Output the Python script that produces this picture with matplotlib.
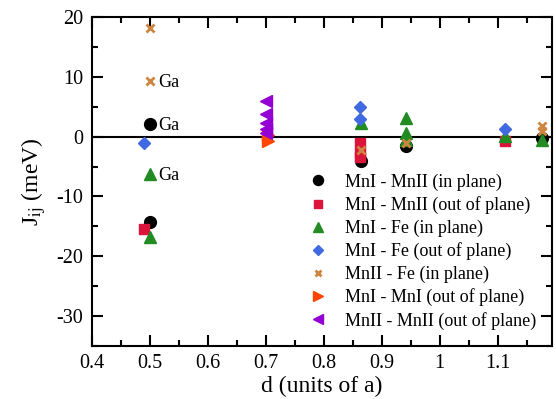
import numpy as np
import matplotlib
matplotlib.use("Agg")
from matplotlib import pyplot as plt
from matplotlib.ticker import MultipleLocator

plt.rcParams['font.family'] = ['Liberation Serif', 'DejaVu Serif']
plt.rcParams['mathtext.fontset'] = 'stix'
plt.rcParams['axes.unicode_minus'] = False

# exchange couplings J_ij (meV) vs distance d (units of a)
mn1_mn2_in_d = [0.50, 0.50, 0.865, 0.942, 1.177]
mn1_mn2_in_j = [2.2, -14.2, -4.0, -1.5, -0.2]

mn1_mn2_out_d = [0.49, 0.862, 0.862, 0.862, 1.113]
mn1_mn2_out_j = [-15.5, -1.0, -2.8, -3.4, -0.7]

mn1_fe_in_d = [0.50, 0.50, 0.865, 0.942, 0.942, 0.942, 1.113, 1.177]
mn1_fe_in_j = [-6.2, -16.8, 2.3, 3.2, 0.7, -0.5, 0.2, -0.6]

mn1_fe_out_d = [0.49, 0.862, 0.862, 1.113]
mn1_fe_out_j = [-1.0, 4.9, 3.0, 1.3]

mn2_fe_in_d = [0.50, 0.50, 0.865, 0.942, 1.177, 1.177]
mn2_fe_in_j = [18.2, 9.3, -2.3, -1.0, 1.8, 1.0]

mn1_mn1_out_d = [0.704, 0.704]
mn1_mn1_out_j = [0.3, -0.7]

mn2_mn2_out_d = [0.70, 0.70, 0.70, 0.70, 0.70]
mn2_mn2_out_j = [6.0, 3.8, 2.3, 1.3, 0.6]

# points that carry a "Ga" tag
ga_d = [0.50, 0.50, 0.50]
ga_j = [9.3, 2.2, -6.2]

fig = plt.figure(figsize=(5.56, 3.99), dpi=100)
ax = fig.add_axes([0.165, 0.133, 0.828, 0.824])

ax.axhline(0, color='black', lw=1.5, zorder=1)

ax.plot(mn1_mn2_in_d, mn1_mn2_in_j, ls='none', marker='o', ms=8.5, color='black', label='MnI - MnII (in plane)')
ax.plot(mn1_mn2_out_d, mn1_mn2_out_j, ls='none', marker='s', ms=7.5, color='#dc143c', label='MnI - MnII (out of plane)')
ax.plot(mn1_fe_in_d, mn1_fe_in_j, ls='none', marker='^', ms=8.5, color='#228b22', label='MnI - Fe (in plane)')
ax.plot(mn1_fe_out_d, mn1_fe_out_j, ls='none', marker='D', ms=6.5, color='#4169e1', label='MnI - Fe (out of plane)')
ax.plot(mn2_fe_in_d, mn2_fe_in_j, ls='none', marker='x', ms=5.5, mew=2, color='#cd853f', label='MnII - Fe (in plane)')
ax.plot(mn1_mn1_out_d, mn1_mn1_out_j, ls='none', marker='>', ms=8.5, color='#ff4500', label='MnI - MnI (out of plane)')
ax.plot(mn2_mn2_out_d, mn2_mn2_out_j, ls='none', marker='<', ms=8.5, color='#9400d3', label='MnII - MnII (out of plane)')

for d, j in zip(ga_d, ga_j):
    ax.text(d + 0.015, j - 0.3, 'Ga', fontsize=13, va='center', ha='left')

ax.set_xlim(0.4, 1.194)
ax.set_ylim(-35, 20)
ax.xaxis.set_minor_locator(MultipleLocator(0.05))
ax.yaxis.set_major_locator(MultipleLocator(10))
ax.yaxis.set_minor_locator(MultipleLocator(5))
ax.set_xticks(np.arange(0.4, 1.15, 0.1))
ax.set_xticklabels(['0.4', '0.5', '0.6', '0.7', '0.8', '0.9', '1', '1.1'])

ax.tick_params(which='both', direction='in', top=True, right=True, labelsize=14.5, width=1.5, pad=6)
ax.tick_params(which='major', length=8)
ax.tick_params(which='minor', length=4)
for s in ax.spines.values():
    s.set_linewidth(1.5)

ax.set_xlabel('d (units of a)', fontsize=17, labelpad=2)
ax.set_ylabel(r'J$_{\rm ij}$ (meV)', fontsize=17, labelpad=6)

ax.legend(loc='lower right', bbox_to_anchor=(1.0, 0.0), frameon=False, fontsize=13,
          handletextpad=0.7, labelspacing=0.3, markerscale=0.85, handlelength=1.5)

fig.savefig('out.png', dpi=100)
